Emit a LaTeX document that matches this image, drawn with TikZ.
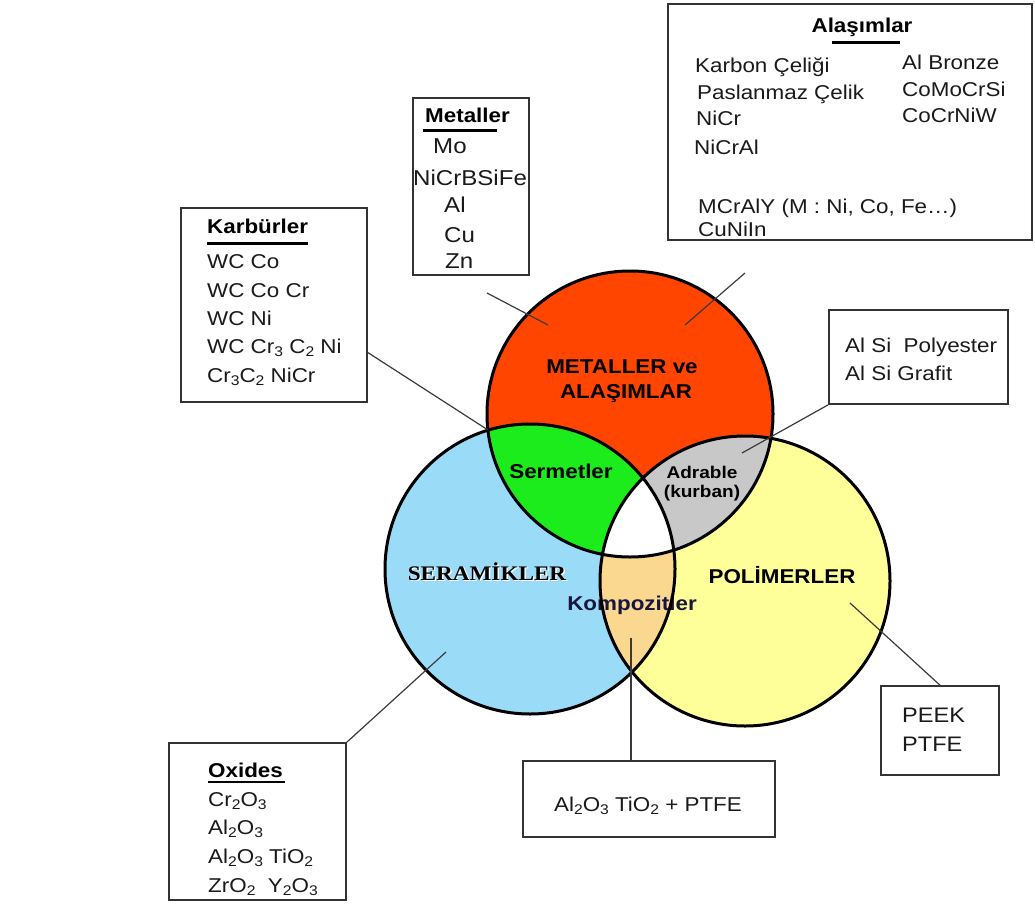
\documentclass[tikz,border=0pt]{standalone}
\usepackage{fontspec}
\setmainfont{Liberation Sans}[FakeStretch=1.12]
\newfontfamily\serifbold{Liberation Serif}[FakeStretch=1.12]
\newcommand\lo[1]{\raisebox{-0.3ex}{\fontsize{14}{14}\selectfont #1}}
\definecolor{redc}{HTML}{FF4500}
\definecolor{greenc}{HTML}{1CEC1C}
\definecolor{grayc}{HTML}{C8C8C8}
\definecolor{bluec}{HTML}{9ADCF8}
\definecolor{yellowc}{HTML}{FFFF99}
\definecolor{orangec}{HTML}{FAD890}
\definecolor{boxc}{HTML}{333333}
\definecolor{linec}{HTML}{3A3A3A}
\definecolor{txtc}{HTML}{1A1A1A}
\definecolor{navyc}{HTML}{16163E}
\begin{document}
\begin{tikzpicture}[x=1pt,y=-1pt,
  box/.style={draw=boxc, line width=1.6pt, fill=white, rectangle, inner sep=0pt},
  txt/.style={anchor=base west, inner sep=0pt, text=txtc, font=\fontsize{20}{24}\selectfont},
  bigtxt/.style={txt, font=\fontsize{21.5}{25}\selectfont},
  ttl/.style={anchor=base west, inner sep=0pt, font=\bfseries\fontsize{20}{24}\selectfont},
  lbl/.style={anchor=base, inner sep=0pt, font=\bfseries\fontsize{20}{24}\selectfont},
  serlbl/.style={anchor=base, inner sep=0pt, font=\serifbold\bfseries\fontsize{20.7}{24}\selectfont},
  conn/.style={draw=linec, line width=1.2pt},
  ul/.style={line width=3pt},
  ring/.style={draw=black, line width=3pt}]
\useasboundingbox (0,0) rectangle (1035,923);

% circle centres
\coordinate (cr) at (630,414);
\coordinate (cb) at (530,569);
\coordinate (cy) at (745,581);

% boxes
\node[box, minimum width=364pt, minimum height=236pt] (alas) at (850,122) {};
\node[box, minimum width=116pt, minimum height=177pt] (metb) at (471,186.5) {};
\node[box, minimum width=186pt, minimum height=194pt] (karb) at (274,305) {};
\node[box, minimum width=179pt, minimum height=94pt] (alsi) at (918.5,357) {};
\node[box, minimum width=118pt, minimum height=89pt] (peek) at (940,730.5) {};
\node[box, minimum width=177pt, minimum height=157pt] (oxb) at (257.5,821.5) {};
\node[box, minimum width=252pt, minimum height=76pt] (kbox) at (649,799) {};

% fills
\fill[bluec] (cb) circle[radius=145pt];
\fill[yellowc] (cy) circle[radius=145pt];
\fill[redc] (cr) circle[radius=143pt];
\begin{scope}
  \clip (cr) circle[radius=143pt];
  \fill[greenc] (cb) circle[radius=145pt];
  \fill[grayc] (cy) circle[radius=145pt];
\end{scope}
\begin{scope}
  \clip (cb) circle[radius=145pt];
  \fill[orangec] (cy) circle[radius=145pt];
  \clip (cy) circle[radius=145pt];
  \fill[white] (cr) circle[radius=143pt];
\end{scope}

% region labels
\node[lbl] (lmet1) at (622,373) {METALLER ve};
\node[lbl] (lmet2) at (626,398) {ALAŞIMLAR};
\node[lbl] (lserm) at (561,478) {Sermetler};
\node[lbl, font=\bfseries\fontsize{17}{20}\selectfont] (ladr1) at (702,478) {Adrable};
\node[lbl, font=\bfseries\fontsize{17}{20}\selectfont] (ladr2) at (702,497) {(kurban)};
\node[serlbl, text=white] (lsers) at (488.5,581.5) {SERAMİKLER};
\node[serlbl] (lser) at (487,580) {SERAMİKLER};
\node[lbl] (lpol) at (782,583) {POLİMERLER};
\node[lbl, text=navyc] (lkomp) at (632,610) {Kompozitler};

% outlines
\draw[ring] (cb) circle[radius=145pt];
\draw[ring] (cy) circle[radius=145pt];
\draw[ring] (cr) circle[radius=143pt];

% connector coordinates
\coordinate (m1) at (487,293); \coordinate (m2) at (548,325);
\coordinate (a1) at (745,273); \coordinate (a2) at (685,325);
\coordinate (k1) at (367,352); \coordinate (k2) at (488,430);
\coordinate (s2) at (742,453);
\coordinate (p1) at (850,603);
\coordinate (o2) at (446,652);
\coordinate (c1) at (631,638);
\draw[conn] (m1) -- (m2);
\draw[conn] (a1) -- (a2);
\draw[conn] (k1) -- (k2);
\draw[conn] (alsi.south west) -- (s2);
\draw[conn] (p1) -- (peek.north);
\draw[conn] (oxb.north east) -- (o2);
\draw[conn] (c1) -- (c1 |- kbox.north);

% Alasimlar box text
\node[lbl] (tal) at (862,33) {Alaşımlar};
\draw[ul] (832,43) -- (900,43);
\node[txt] (al1) at (695,73) {Karbon Çeliği};
\node[txt] (al2) at (697,100) {Paslanmaz Çelik};
\node[txt] (al3) at (696,125) {NiCr};
\node[txt] (al4) at (694,154) {NiCrAl};
\node[txt] (al5) at (698,213) {MCrAlY (M : Ni, Co, Fe…)};
\node[txt] (al6) at (698,236) {CuNiIn};
\node[txt] (ar1) at (902,70) {Al Bronze};
\node[txt] (ar2) at (902,97) {CoMoCrSi};
\node[txt] (ar3) at (902,122) {CoCrNiW};

% Metaller box text
\node[ttl] (tmet) at (425,122) {Metaller};
\draw[ul] (423,130) -- (497,130);
\node[bigtxt] (me1) at (433,153) {Mo};
\node[bigtxt] (me2) at (413,185) {NiCrBSiFe};
\node[bigtxt] (me3) at (444,212) {Al};
\node[bigtxt] (me4) at (444,242) {Cu};
\node[bigtxt] (me5) at (445,268) {Zn};

% Karburler box text
\node[ttl] (tkar) at (207,233) {Karbürler};
\draw[ul] (207,243) -- (308,243);
\node[txt] (ka1) at (207,268) {WC Co};
\node[txt] (ka2) at (207,297) {WC Co Cr};
\node[txt] (ka3) at (207,325) {WC Ni};
\node[txt] (ka4) at (207,353) {WC Cr\lo{3} C\lo{2} Ni};
\node[txt] (ka5) at (207,382) {Cr\lo{3}C\lo{2} NiCr};

% Al Si box
\node[txt] (as1) at (845,352) {Al Si\ \ Polyester};
\node[txt] (as2) at (845,380) {Al Si Grafit};

% PEEK box
\node[txt, font=\fontsize{21}{25}\selectfont] (pe1) at (902,722) {PEEK};
\node[txt, font=\fontsize{21}{25}\selectfont] (pe2) at (902,751) {PTFE};

% Oxides box
\node[ttl] (tox) at (208,777) {Oxides};
\draw[line width=2.2pt] (208,782) -- (285,782);
\node[txt] (ox1) at (208,806) {Cr\lo{2}O\lo{3}};
\node[txt] (ox2) at (208,834) {Al\lo{2}O\lo{3}};
\node[txt] (ox3) at (208,863) {Al\lo{2}O\lo{3} TiO\lo{2}};
\node[txt] (ox4) at (208,892) {ZrO\lo{2}\ \ Y\lo{2}O\lo{3}};

% Kompozit box
\node[txt, anchor=base] (kt) at (648,811) {Al\lo{2}O\lo{3} TiO\lo{2} + PTFE};
\end{tikzpicture}
\end{document}
